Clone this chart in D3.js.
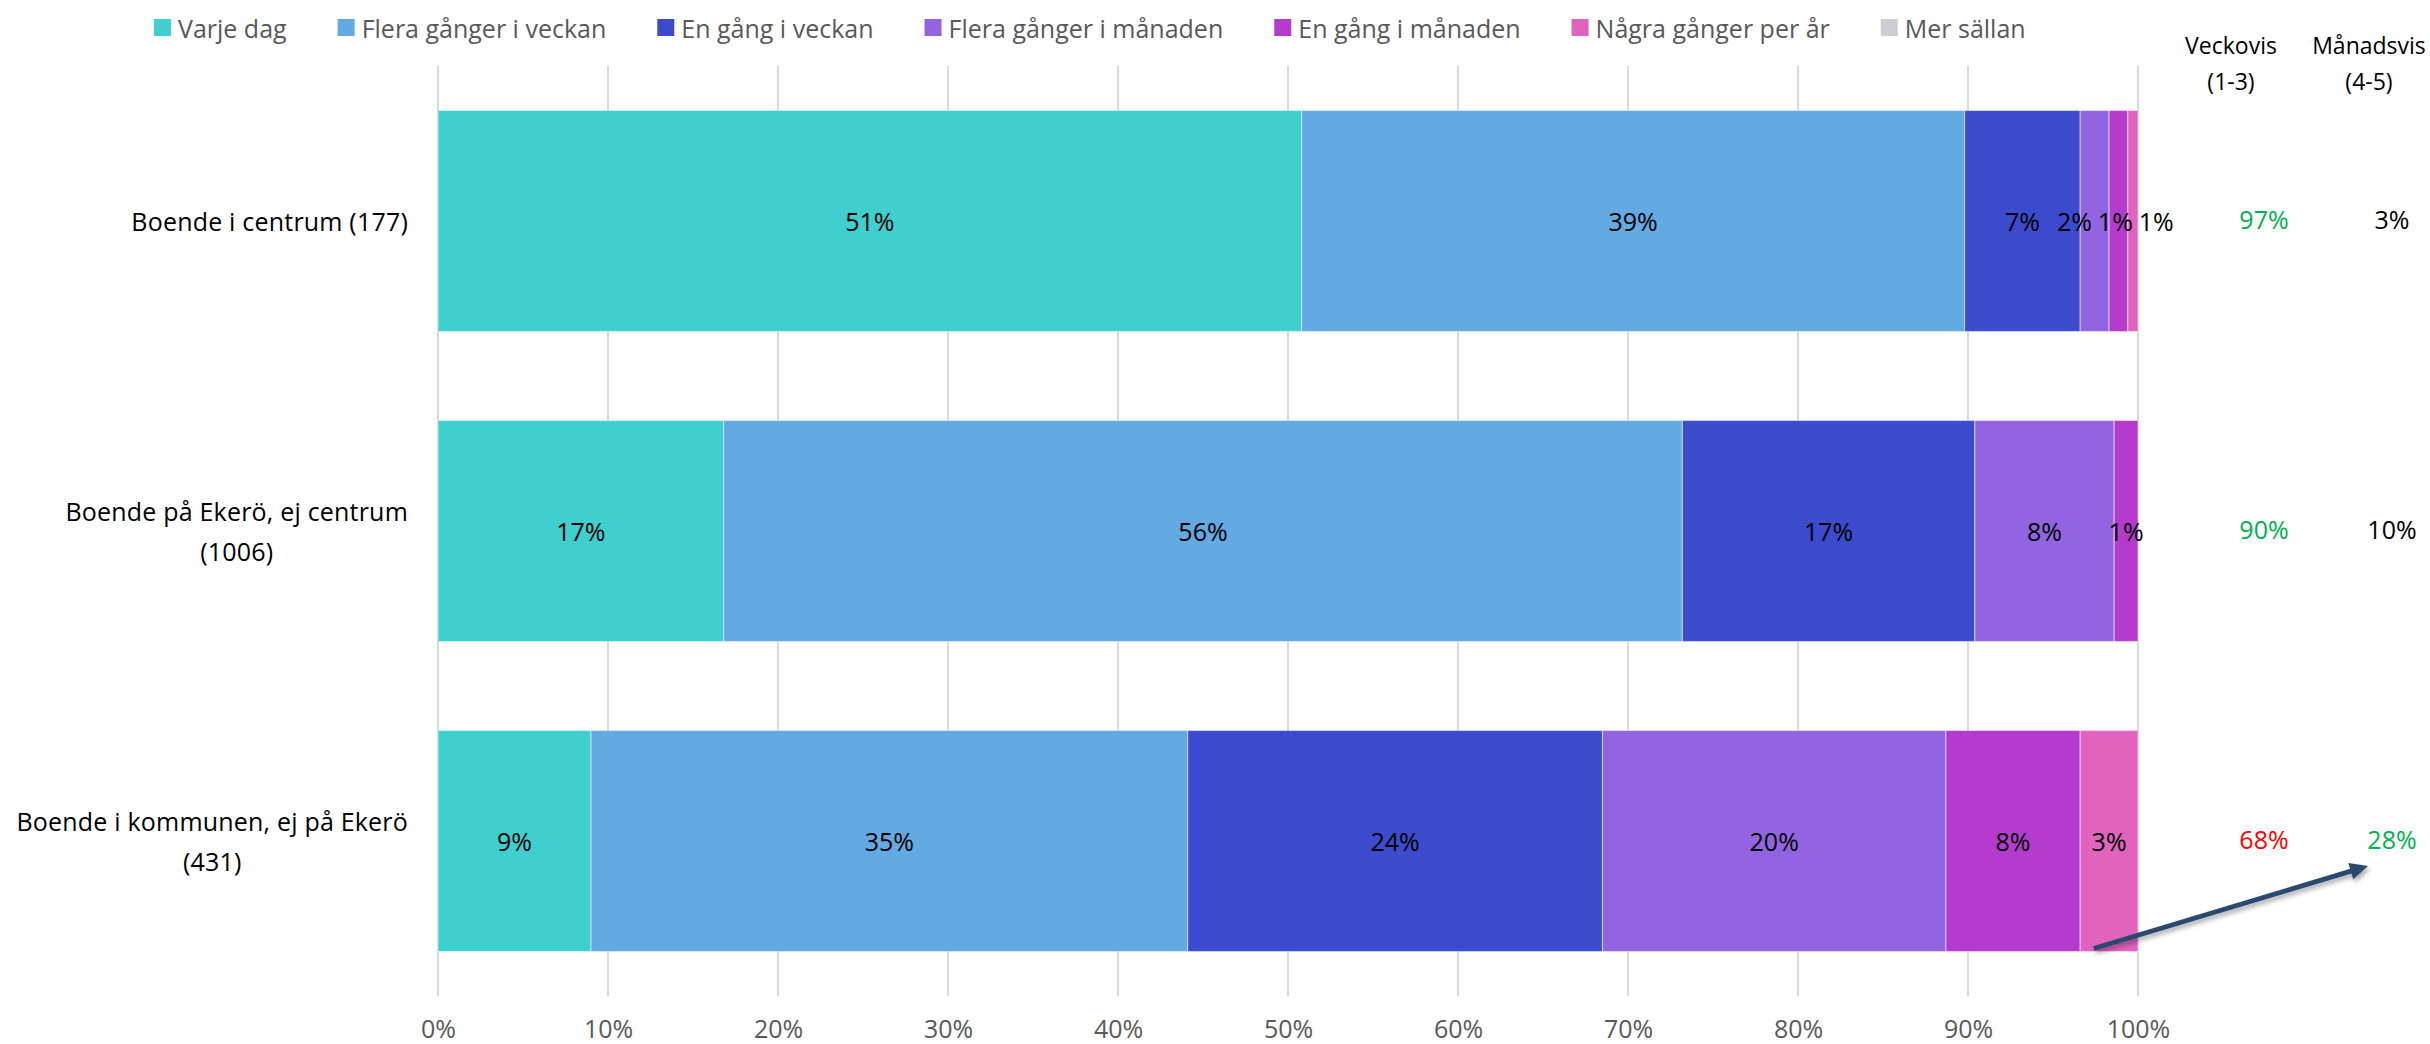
<!DOCTYPE html>
<html><head><meta charset="utf-8">
<script src="https://cdn.jsdelivr.net/npm/d3@7"></script>
<style>
html,body{margin:0;padding:0;background:#fff;}
svg{display:block;font-family:"Open Sans",sans-serif;}
</style></head>
<body>
<svg id="c" width="2430" height="1044"></svg>
<script>
// ---------- DATA ----------
const categories = ["Boende i centrum (177)", "Boende på Ekerö, ej centrum (1006)", "Boende i kommunen, ej på Ekerö (431)"];
const series = ["Varje dag", "Flera gånger i veckan", "En gång i veckan", "Flera gånger i månaden", "En gång i månaden", "Några gånger per år", "Mer sällan"];
const varjeDag      = [50.8, 16.8, 9.0];
const fleraVeckan   = [39.0, 56.4, 35.1];
const enVeckan      = [6.8, 17.2, 24.4];
const fleraManaden  = [1.7, 8.2, 20.2];
const enManaden     = [1.1, 1.4, 7.9];
const nagraPerAr    = [0.6, 0.0, 3.4];
const merSallan     = [0.0, 0.0, 0.0];
const xTicks = [0, 10, 20, 30, 40, 50, 60, 70, 80, 90, 100];
const summaryHeaders = [["Veckovis", "(1-3)"], ["Månadsvis", "(4-5)"]];
const veckovis  = [97, 90, 68];
const manadsvis = [3, 10, 28];

// ---------- STYLE ----------
const palette = ["#3ECFCE", "#63A9E2", "#3C4BCE", "#9264E1", "#B43BCD", "#E063BD", "#CDCED3"];
const veckovisColors  = ["#00B050", "#00B050", "#FF0000"];
const manadsvisColors = ["#000000", "#000000", "#00B050"];

const values = [varjeDag, fleraVeckan, enVeckan, fleraManaden, enManaden, nagraPerAr, merSallan];

const svg = d3.select("#c");
const x = d3.scaleLinear().domain([0, 100]).range([438, 2138]);
const y = d3.scaleBand().domain(d3.range(categories.length)).range([66, 996])
  .paddingInner(0.287).paddingOuter(0.1435);
const color = d3.scaleOrdinal().domain(series).range(palette);

const rows = categories.map((c, i) => {
  const o = {cat: c};
  series.forEach((s, j) => o[s] = values[j][i]);
  return o;
});
const stacked = d3.stack().keys(series)(rows);

// gridlines
svg.append("g").selectAll("line").data(xTicks).join("line")
  .attr("x1", d => x(d)).attr("x2", d => x(d))
  .attr("y1", 66).attr("y2", 996)
  .attr("stroke", "#D9D9D9").attr("stroke-width", 2);

// axis labels
const axis = svg.append("g").attr("transform", "translate(0,996)")
  .call(d3.axisBottom(x).tickValues(xTicks).tickFormat(d => d + "%").tickSize(0));
axis.select(".domain").remove();
axis.selectAll("text").attr("y", 42).attr("dy", 0)
  .attr("font-family", "Open Sans").attr("font-size", 25).attr("fill", "#595959");

// bars
svg.append("g").selectAll("g").data(stacked).join("g")
  .attr("fill", d => color(d.key))
  .selectAll("rect").data(d => d.map((v, i) => ({v, i}))).join("rect")
  .attr("x", d => x(d.v[0]))
  .attr("width", d => Math.max(0, x(d.v[1]) - x(d.v[0])))
  .attr("y", d => y(d.i))
  .attr("height", y.bandwidth())
  .attr("stroke", "#ffffff").attr("stroke-opacity", 0.45).attr("stroke-width", 1.2);

// data labels with simple overlap avoidance per row
const labelG = svg.append("g");
categories.forEach((c, i) => {
  const items = [];
  stacked.forEach(layer => {
    const v = layer[i];
    const val = v[1] - v[0];
    if (val <= 0) return;
    const t = labelG.append("text")
      .attr("font-size", 25).attr("fill", "#000")
      .attr("text-anchor", "middle").attr("dominant-baseline", "central")
      .attr("y", y(i) + y.bandwidth() / 2)
      .text(Math.round(val) + "%");
    items.push({t, cx: x((v[0] + v[1]) / 2), w: t.node().getComputedTextLength()});
  });
  for (let it = 0; it < 60; it++) {
    for (let k = 0; k < items.length - 1; k++) {
      const a = items[k], b = items[k + 1];
      const need = (a.w + b.w) / 2 + 6;
      const d = b.cx - a.cx;
      if (d < need) { const p = (need - d) / 2; a.cx -= p; b.cx += p; }
    }
  }
  items.forEach(o => o.t.attr("x", o.cx));
});

// category labels (right aligned block, wrapped lines centered)
const catG = svg.append("g");
categories.forEach((c, i) => {
  const probe = catG.append("text").attr("font-size", 25).attr("letter-spacing", 0.2).text(c);
  const full = probe.node().getComputedTextLength();
  probe.remove();
  let lines = [c];
  if (full > 300) {
    const idx = c.lastIndexOf(" ");
    lines = [c.slice(0, idx), c.slice(idx + 1)];
  }
  const ts = lines.map(l => catG.append("text").attr("font-size", 25).attr("letter-spacing", 0.2)
    .attr("fill", "#000").attr("text-anchor", "middle").attr("dominant-baseline", "central").text(l));
  const maxW = d3.max(ts, t => t.node().getComputedTextLength());
  const cx = 408 - maxW / 2;
  const lh = 40;
  const cy = y(i) + y.bandwidth() / 2;
  ts.forEach((t, k) => t.attr("x", cx).attr("y", cy + (k - (lines.length - 1) / 2) * lh));
});

// legend
const leg = svg.append("g");
let lx = 154;
series.forEach(s => {
  leg.append("rect").attr("x", lx).attr("y", 19).attr("width", 17).attr("height", 17).attr("fill", color(s));
  const t = leg.append("text").attr("x", lx + 24).attr("y", 27.5).attr("dominant-baseline", "central")
    .attr("font-size", 25).attr("fill", "#595959").text(s);
  lx += 24 + t.node().getComputedTextLength() + 51;
});

// summary columns
const headX = [2231, 2369];
const valX = [2264, 2392];
summaryHeaders.forEach((h, j) => {
  h.forEach((line, k) => {
    svg.append("text").attr("x", headX[j]).attr("y", 45 + k * 36)
      .attr("text-anchor", "middle").attr("dominant-baseline", "central")
      .attr("font-size", 23).attr("fill", "#000").text(line);
  });
});
const sumG = svg.append("g");
sumG.selectAll("text.v").data(veckovis).join("text").attr("class", "v")
  .attr("x", valX[0]).attr("y", (d, i) => y(i) + y.bandwidth() / 2 - 2)
  .attr("text-anchor", "middle").attr("dominant-baseline", "central")
  .attr("font-size", 25).attr("fill", (d, i) => veckovisColors[i]).text(d => d + "%");
sumG.selectAll("text.m").data(manadsvis).join("text").attr("class", "m")
  .attr("x", valX[1]).attr("y", (d, i) => y(i) + y.bandwidth() / 2 - 2)
  .attr("text-anchor", "middle").attr("dominant-baseline", "central")
  .attr("font-size", 25).attr("fill", (d, i) => manadsvisColors[i]).text(d => d + "%");

// arrow annotation (from last row's "Några gånger per år" segment toward the 28% value)
const defs = svg.append("defs");
const f = defs.append("filter").attr("id", "sh").attr("x", "-20%").attr("y", "-50%").attr("width", "140%").attr("height", "200%");
f.append("feDropShadow").attr("dx", 2).attr("dy", 3).attr("stdDeviation", 2.5).attr("flood-color", "#000").attr("flood-opacity", 0.35);
const last = categories.length - 1;
const segStart = stacked[5][last][0];
const x0 = x(segStart + 0.8), y0 = y(last) + y.bandwidth() - 3;
const x1 = valX[1] - 24, y1 = y(last) + y.bandwidth() / 2 + 25;
const ang = Math.atan2(y1 - y0, x1 - x0);
const hl = 18, hw = 8.5;
const bx = x1 - hl * Math.cos(ang), by = y1 - hl * Math.sin(ang);
const ag = svg.append("g").attr("filter", "url(#sh)");
ag.append("line").attr("x1", x0).attr("y1", y0).attr("x2", bx + 2 * Math.cos(ang)).attr("y2", by + 2 * Math.sin(ang))
  .attr("stroke", "#2C4A6E").attr("stroke-width", 4.8);
ag.append("polygon").attr("points", [
  [x1, y1],
  [bx + hw * Math.sin(ang), by - hw * Math.cos(ang)],
  [bx - hw * Math.sin(ang), by + hw * Math.cos(ang)]
].map(p => p.join(",")).join(" ")).attr("fill", "#2C4A6E");
</script>
</body></html>
